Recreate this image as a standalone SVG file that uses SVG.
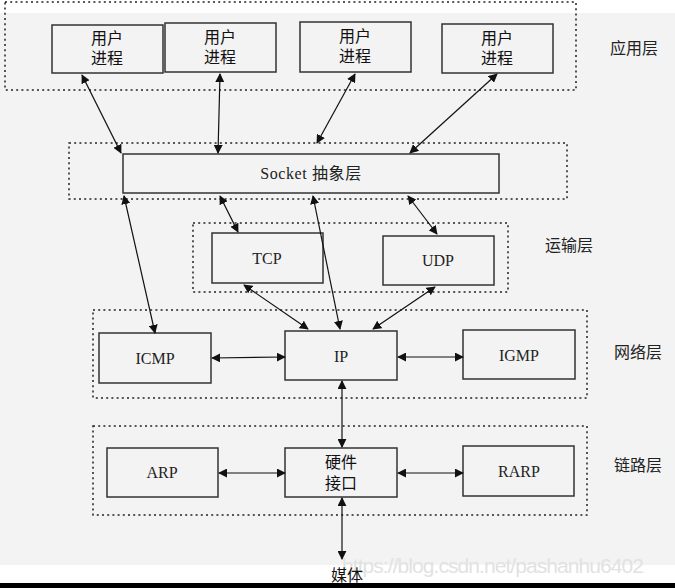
<svg xmlns="http://www.w3.org/2000/svg" width="675" height="588" viewBox="0 0 675 588">
<style>
.bg{fill:#f3f3f3}
.layer{fill:none;stroke:#222;stroke-width:1.5;stroke-dasharray:2 3.2}
.box{fill:#f3f3f3;stroke:#333;stroke-width:1.5}
.cn{font-family:"Noto Sans CJK SC","Noto Sans",sans-serif;font-size:16px;fill:#111;text-anchor:middle}
.en{font-family:"Liberation Serif","DejaVu Serif",serif;font-size:16px;fill:#222;text-anchor:middle}
.lbl{font-family:"Noto Sans CJK SC","Noto Sans",sans-serif;font-size:16px;fill:#222}
.conn line{stroke:#111;stroke-width:1.2;marker-start:url(#a);marker-end:url(#a)}
</style>
<defs>
<marker id="a" viewBox="0 0 10 10" refX="9" refY="5" markerWidth="9" markerHeight="9" markerUnits="userSpaceOnUse" orient="auto-start-reverse">
<path d="M0,0 L10,5 L0,10 z" fill="#111"/>
</marker>
</defs>
<rect x="0" y="0" width="675" height="588" fill="#ffffff"/>
<rect class="bg" x="0" y="13" width="675" height="552"/>
<rect x="0" y="583" width="675" height="5" fill="#000"/>

<g id="layers">
<rect class="layer" x="5" y="2" width="571" height="88"/>
<rect class="layer" x="69" y="143" width="498" height="56"/>
<rect class="layer" x="193" y="223" width="315" height="69"/>
<rect class="layer" x="93" y="310" width="494" height="88"/>
<rect class="layer" x="93" y="426" width="494" height="89"/>
</g>

<g id="proc1"><rect class="box" x="52" y="25" width="111" height="48"/><text class="cn"><tspan x="107" y="44">用户</tspan><tspan x="107" y="64">进程</tspan></text></g>
<g id="proc2"><rect class="box" x="165" y="23" width="111" height="49"/><text class="cn"><tspan x="220" y="43">用户</tspan><tspan x="220" y="63">进程</tspan></text></g>
<g id="proc3"><rect class="box" x="300" y="22" width="111" height="50"/><text class="cn"><tspan x="355" y="42">用户</tspan><tspan x="355" y="62">进程</tspan></text></g>
<g id="proc4"><rect class="box" x="442" y="24" width="111" height="49"/><text class="cn"><tspan x="497" y="44">用户</tspan><tspan x="497" y="64">进程</tspan></text></g>

<g id="socket"><rect class="box" x="123" y="154" width="376" height="39"/><text x="311" y="179" style="font-family:'Liberation Serif','DejaVu Serif',serif;font-size:16px;fill:#222;text-anchor:middle;letter-spacing:0.6px">Socket <tspan style="font-family:'Noto Sans CJK SC',sans-serif">抽象层</tspan></text></g>

<g id="tcp"><rect class="box" x="212" y="233" width="111" height="50"/><text class="en" x="267" y="264">TCP</text></g>
<g id="udp"><rect class="box" x="383" y="236" width="111" height="49"/><text class="en" x="438" y="266">UDP</text></g>

<g id="icmp"><rect class="box" x="99" y="333" width="112" height="50"/><text class="en" x="155" y="364">ICMP</text></g>
<g id="ip"><rect class="box" x="285" y="331" width="112" height="49"/><text class="en" x="341" y="362">IP</text></g>
<g id="igmp"><rect class="box" x="463" y="330" width="112" height="49"/><text class="en" x="519" y="361">IGMP</text></g>

<g id="arp"><rect class="box" x="107" y="448" width="111" height="49"/><text class="en" x="162" y="478">ARP</text></g>
<g id="hw"><rect class="box" x="285" y="448" width="112" height="49"/><text class="cn"><tspan x="341" y="468">硬件</tspan><tspan x="341" y="489">接口</tspan></text></g>
<g id="rarp"><rect class="box" x="463" y="446" width="111" height="50"/><text class="en" x="519" y="477">RARP</text></g>

<g id="labels">
<text class="lbl" x="610" y="54">应用层</text>
<text class="lbl" x="545" y="251">运输层</text>
<text class="lbl" x="614" y="358">网络层</text>
<text class="lbl" x="614" y="471">链路层</text>
</g>

<text x="342" y="573" style="font-family:'Liberation Sans',Arial,sans-serif;font-size:21px;fill:#e2e2e2" textLength="302">https://blog.csdn.net/pashanhu6402</text>
<g id="media"><text class="cn" x="347" y="581">媒体</text></g>

<g id="connectors" class="conn">
<line x1="82" y1="75" x2="121" y2="153"/>
<line x1="220" y1="74" x2="218" y2="153"/>
<line x1="355" y1="74" x2="317" y2="143"/>
<line x1="497" y1="74" x2="410" y2="153"/>
<line x1="124" y1="196" x2="155" y2="333"/>
<line x1="220" y1="196" x2="238" y2="232"/>
<line x1="313" y1="196" x2="340" y2="329"/>
<line x1="408" y1="196" x2="437" y2="234"/>
<line x1="244" y1="285" x2="308" y2="329"/>
<line x1="435" y1="287" x2="373" y2="329"/>
<line x1="212" y1="358" x2="285" y2="357"/>
<line x1="398" y1="357" x2="463" y2="357"/>
<line x1="342" y1="381" x2="342" y2="447"/>
<line x1="219" y1="473" x2="285" y2="473"/>
<line x1="398" y1="473" x2="463" y2="473"/>
<line x1="342" y1="498" x2="342" y2="559"/>
</g>
</svg>
